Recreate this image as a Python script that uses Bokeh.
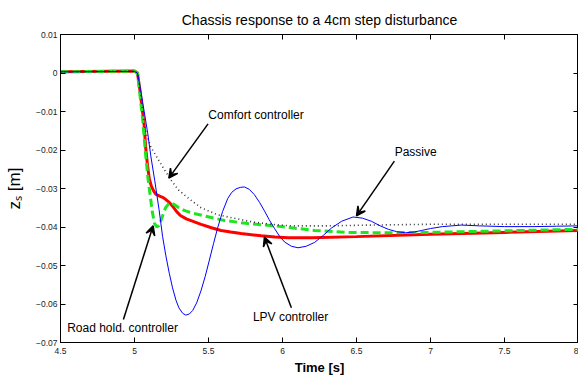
from bokeh.plotting import figure
from bokeh.models import LinearAxis, FixedTicker, Range1d, Label, Arrow, VeeHead
from bokeh.embed import file_html
from bokeh.resources import INLINE

FONT = "Liberation Sans"

# ---------------- data ----------------
x_ticks = [4.5, 5.0, 5.5, 6.0, 6.5, 7.0, 7.5, 8.0]
x_tick_labels = ["4.5", "5", "5.5", "6", "6.5", "7", "7.5", "8"]
y_ticks = [0.01, 0.0, -0.01, -0.02, -0.03, -0.04, -0.05, -0.06, -0.07]
y_tick_labels = ["0.01", "0", "\u22120.01", "\u22120.02", "\u22120.03",
                 "\u22120.04", "\u22120.05", "\u22120.06", "\u22120.07"]

passive_t = [4.5, 4.9, 5.0, 5.02, 5.04, 5.065, 5.09, 5.11, 5.137, 5.166, 5.19,
             5.212, 5.235, 5.257, 5.28, 5.30, 5.325, 5.347, 5.37, 5.393, 5.42,
             5.449, 5.478, 5.506, 5.534, 5.562, 5.595, 5.63, 5.657, 5.686,
             5.715, 5.743, 5.775, 5.81, 5.845, 5.878, 5.91, 5.946, 5.98, 6.014,
             6.06, 6.105, 6.16, 6.217, 6.275, 6.33, 6.40, 6.477, 6.54, 6.6,
             6.66, 6.715, 6.77, 6.83, 6.89, 6.94, 7.0, 7.08, 7.21, 7.33, 7.5,
             7.7, 7.85, 8.0]
passive_z = [0.0003, 0.0004, 0.0004, 0.0, -0.004, -0.0099, -0.0158, -0.0215,
             -0.028, -0.0355, -0.0425, -0.0475, -0.052, -0.0558, -0.0590,
             -0.0610, -0.0624, -0.0629, -0.0626, -0.0617, -0.0597, -0.0566,
             -0.0528, -0.0486, -0.0443, -0.0402, -0.0360, -0.0326, -0.0310,
             -0.0301, -0.0297, -0.0296, -0.0302, -0.0316, -0.0336, -0.0358,
             -0.0381, -0.0404, -0.0424, -0.0439, -0.0450, -0.0454, -0.0450,
             -0.0440, -0.0422, -0.0403, -0.0385, -0.0374, -0.0377, -0.0385,
             -0.0397, -0.0406, -0.0412, -0.0415, -0.0413, -0.0409, -0.0404,
             -0.0399, -0.0395, -0.0397, -0.0399, -0.0399, -0.0398, -0.0397]

comfort_t = [4.5, 5.0, 5.02, 5.04, 5.065, 5.09, 5.11, 5.13, 5.2, 5.25, 5.3,
             5.38, 5.45, 5.56, 5.67, 5.8, 5.95, 6.06, 6.3, 6.6, 7.0, 7.5, 8.0]
comfort_z = [0.0003, 0.0005, 0.0, -0.005, -0.0135, -0.0170, -0.0192, -0.0205,
             -0.0250, -0.0280, -0.0305, -0.0330, -0.0350, -0.0368, -0.0377,
             -0.0387, -0.0394, -0.0397, -0.0397, -0.0395, -0.0393, -0.0393,
             -0.0393]

road_t = [4.5, 5.0, 5.02, 5.035, 5.054, 5.076, 5.09, 5.105, 5.12, 5.135, 5.15,
          5.166, 5.18, 5.195, 5.21, 5.23, 5.246, 5.27, 5.3, 5.336, 5.4, 5.47,
          5.607, 5.766, 5.946, 6.06, 6.217, 6.44, 6.7, 7.0, 7.5, 8.0]
road_z = [0.0003, 0.0005, 0.0, -0.005, -0.0116, -0.0215, -0.027, -0.0315,
          -0.0360, -0.0390, -0.0400, -0.0396, -0.0382, -0.0365, -0.0350,
          -0.0340, -0.0337, -0.0342, -0.0350, -0.0357, -0.0365, -0.0371,
          -0.0383, -0.0391, -0.0397, -0.0402, -0.0409, -0.0414, -0.0415,
          -0.0414, -0.0410, -0.0406]

lpv_t = [4.5, 5.0, 5.02, 5.035, 5.054, 5.065, 5.076, 5.088, 5.1, 5.115, 5.13,
         5.144, 5.17, 5.19, 5.21, 5.235, 5.257, 5.285, 5.31, 5.35, 5.4, 5.45,
         5.52, 5.585, 5.65, 5.72, 5.79, 5.856, 5.95, 6.04, 6.2, 6.5, 7.0, 7.5,
         8.0]
lpv_z = [0.0003, 0.0005, 0.0, -0.004, -0.0099, -0.0135, -0.0195, -0.0240,
         -0.0275, -0.0295, -0.0307, -0.0315, -0.0320, -0.0323, -0.0328,
         -0.0336, -0.0346, -0.0360, -0.0370, -0.0379, -0.0386, -0.0393,
         -0.0402, -0.0409, -0.0413, -0.0417, -0.0420, -0.0423, -0.0426,
         -0.0428, -0.0428, -0.0425, -0.0419, -0.0414, -0.0409]

# ---------------- layout ----------------
W, H = 578, 380
FL, FR, FT, FB = 60, 578, 34, 342      # intended frame edges (pixels)

p = figure(width=W, height=H, output_backend="svg", toolbar_location=None,
           x_range=Range1d(4.5, 8.0), y_range=Range1d(-0.07, 0.01),
           min_border_left=FL, min_border_right=W - FR,
           min_border_top=FT, min_border_bottom=H - FB,
           background_fill_color="white", border_fill_color="white")

p.title.text = "Chassis response to a 4cm step disturbance"
p.title.align = "center"
p.title.text_font = FONT
p.title.text_font_size = "14px"
p.title.text_font_style = "normal"
p.title.text_color = "black"
p.title.standoff = 13

p.xgrid.visible = False
p.ygrid.visible = False
p.outline_line_color = "black"
p.outline_line_width = 1
p.outline_line_alpha = 1


def style_axis(ax):
    ax.major_tick_in = 5
    ax.major_tick_out = 0
    ax.minor_tick_in = 5
    ax.minor_tick_out = 0
    ax.axis_line_color = "black"
    ax.major_tick_line_color = "black"
    ax.minor_tick_line_color = "black"
    ax.major_label_text_font = FONT
    ax.major_label_text_color = "#222222"
    ax.major_label_text_font_size = "8.5px"


p.xaxis.ticker = FixedTicker(ticks=x_ticks, minor_ticks=[])
p.xaxis.major_label_overrides = dict(zip(x_ticks, x_tick_labels))
p.yaxis.ticker = FixedTicker(ticks=y_ticks, minor_ticks=[])
p.yaxis.major_label_overrides = dict(zip(y_ticks, y_tick_labels))
style_axis(p.xaxis[0])
style_axis(p.yaxis[0])
p.xaxis.major_label_standoff = 5
p.yaxis.major_label_standoff = 3
p.xaxis.axis_label = "Time [s]"
p.xaxis.axis_label_text_font = FONT
p.xaxis.axis_label_text_font_size = "13px"
p.xaxis.axis_label_text_font_style = "bold"
p.xaxis.axis_label_text_color = "black"
p.xaxis.axis_label_standoff = 3

p.yaxis.axis_label = "z\u209b [m]"
p.yaxis.axis_label_text_font = FONT
p.yaxis.axis_label_text_font_size = "17px"
p.yaxis.axis_label_text_font_style = "normal"
p.yaxis.axis_label_text_color = "black"
p.yaxis.axis_label_standoff = 9

# top and right axes: tick marks only (as minor ticks, so no labels are drawn)
top = LinearAxis(ticker=FixedTicker(ticks=[], minor_ticks=x_ticks))
style_axis(top)
top.major_label_standoff = 0
p.add_layout(top, "above")
right = LinearAxis(ticker=FixedTicker(ticks=[], minor_ticks=y_ticks))
style_axis(right)
right.major_label_standoff = 0
p.add_layout(right, "right")

# ---------------- curves ----------------
p.line(lpv_t, lpv_z, line_color="#ff0000", line_width=3)
p.line(road_t, road_z, line_color="#1ee61e", line_width=3, line_dash="8 4")
p.line(comfort_t, comfort_z, line_color="#333333", line_width=1.6, line_dash="1 3")
p.line(passive_t, passive_z, line_color="#0000ff", line_width=1)

# ---------------- annotations ----------------
def arrow(x0, y0, x1, y1):
    p.add_layout(Arrow(x_start=x0, y_start=y0, x_end=x1, y_end=y1,
                       line_color="black", line_width=1.5,
                       end=VeeHead(size=9, line_color="black", line_width=1.5,
                                   fill_color="black")))


def note(x, y, txt):
    p.add_layout(Label(x=x, y=y, text=txt, text_font=FONT, text_font_size="12px",
                       text_color="black", text_align="left",
                       text_baseline="middle"))


arrow(5.497, -0.0132, 5.232, -0.0273)
note(5.499, -0.0109, "Comfort controller")
arrow(6.756, -0.0229, 6.50, -0.0371)
note(6.758, -0.0205, "Passive")
arrow(4.925, -0.0640, 5.126, -0.0397)
note(4.545, -0.0662, "Road hold. controller")
arrow(6.06, -0.0610, 5.878, -0.0426)
note(5.80, -0.0634, "LPV controller")

open("out.html", "w").write(file_html(p, INLINE))
